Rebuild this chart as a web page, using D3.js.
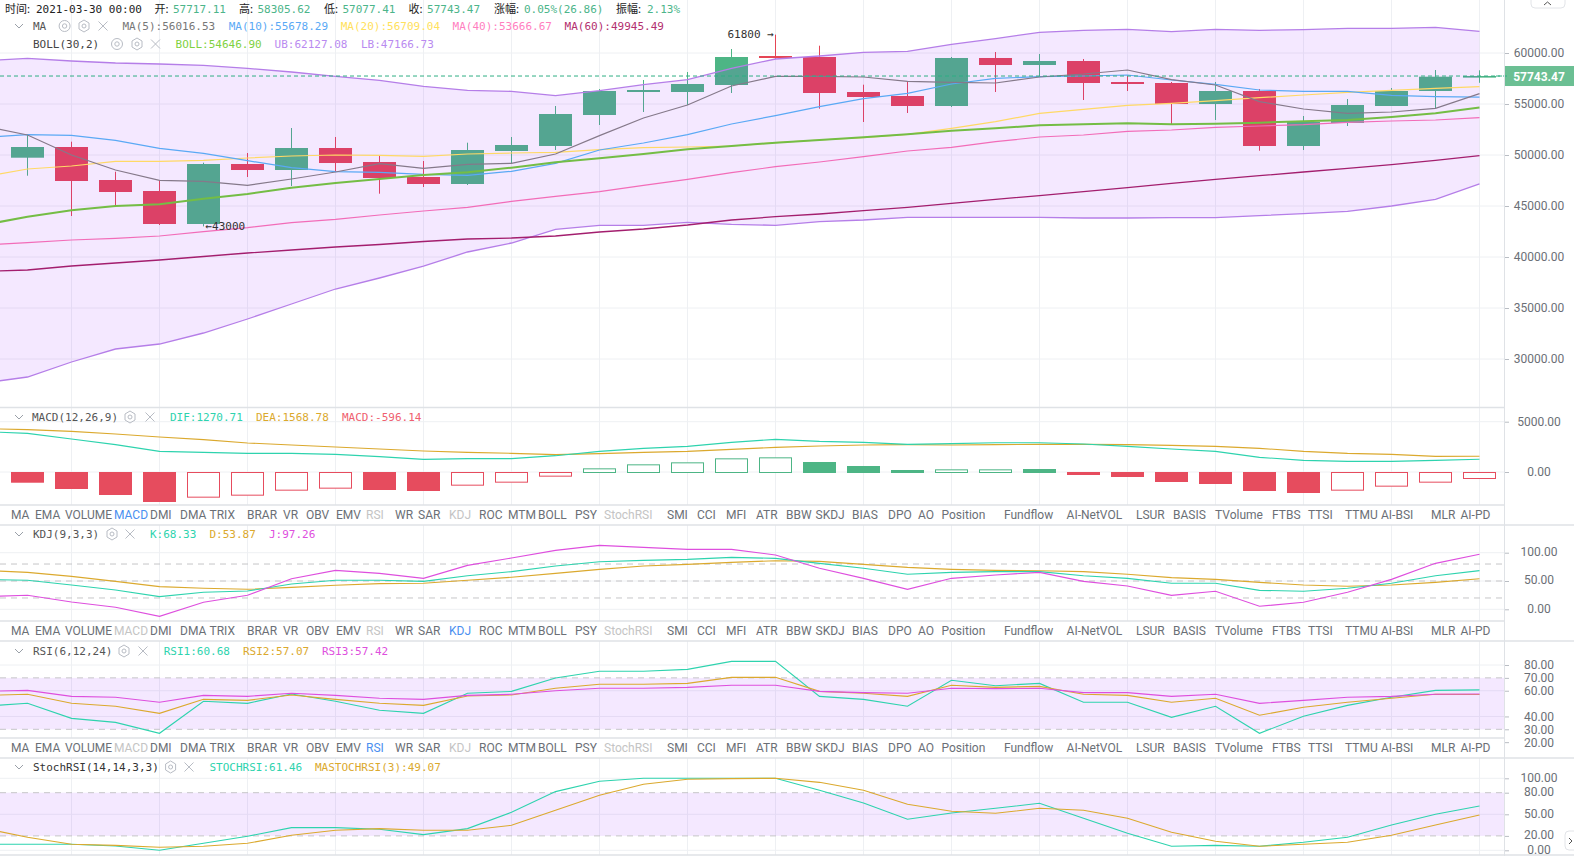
<!DOCTYPE html>
<html><head><meta charset="utf-8">
<script src="https://cdn.jsdelivr.net/npm/d3@7/dist/d3.min.js"></script>
<style>
html,body{margin:0;padding:0;background:#fff;overflow:hidden}
svg{display:block}
.mono{font-family:"DejaVu Sans Mono","Noto Sans CJK SC",monospace;font-size:11px}
.cjk{font-family:"Noto Sans CJK SC","DejaVu Sans Mono",sans-serif;font-size:11px}
.sans{font-family:Roboto,"Noto Sans",sans-serif;font-size:12px}
</style></head><body>
<div id="chart"></div>
<script>
// ---------- DATA ----------
const candleOpen  =[49735,50784,47549,46470,43235,49117,48529,50686,49314,47843,47157,50392,50882,53921,56176,56176,56863,59706,59608,56176,55784,54804,59510,58823,59216,57157,57059,54999,56274,50882,53137,54804,56274,57717.11];
const candleClose =[50784,47451,46372,43235,49117,48529,50686,49215,47745,47157,50490,50980,54019,56274,56372,56961,59608,59510,56078,55686,54804,59510,58823,59216,57059,56961,54999,56274,50882,53235,54902,56274,57676,57743.47];
const candleHigh  =[51961,51304,48362,47451,49245,50196,52647,51765,50000,49412,51206,51765,54804,56470,57353,58137,60392,61800,60716,56892,57157,59608,60098,59902,59412,57745,57157,57157,56470,53823,55490,56568,58333,58305.62];
const candleLow   =[47971,44020,45000,43137,43000,47843,46960,48333,46206,46862,47059,49215,50490,52941,54216,54902,56078,59412,54539,53235,54118,54706,56176,57745,55392,56274,53039,53431,50421,50490,52843,54804,54608,57077.41];
// line series start one period before the first visible candle
const ma5 =[52843,51960,50000,48529,47516,47418,47026,47647,48333,49150,48693,49085,49183,50098,51895,53627,54902,56765,57712,57712,57647,57222,57124,57059,57647,57941,58333,57385,56863,55229,54510,54085,54216,54575,56016.53];
const ma10=[51732,51993,51928,51438,50653,50163,49444,48758,48366,48300,48104,48006,48398,49183,50490,51176,51993,53039,53856,54738,55523,56046,56961,57516,57680,57745,57843,57353,56928,56372,56242,56242,55850,55719,55678.29];
const ma20=[47876,48627,48921,49379,49379,49477,49708,49902,50000,49967,49869,50098,50196,50261,50523,50719,50784,50882,51209,51470,51699,52026,52614,53268,54085,54477,54869,55065,55327,55621,55882,56144,56340,56536,56709.04];
const ma40=[41176,41405,41666,41830,42059,42483,42876,43366,43693,44117,44510,44869,45457,45948,46405,47026,47614,48268,48856,49313,49836,50392,50751,51307,51765,51961,52320,52451,52712,52843,52974,53202,53333,53431,53666.67];
const ma60=[38578,38725,39117,39411,39706,40049,40392,40686,40980,41225,41519,41764,41862,42057,42451,42745,43137,43627,43954,44215,44542,44869,45261,45653,46013,46405,46798,47222,47614,47974,48333,48693,49052,49477,49945.49];
const bollMid=[43137,43954,44574,45000,45163,45719,46176,46797,47255,47647,48039,48300,48758,49281,49673,50098,50555,50882,51209,51470,51732,52026,52386,52614,52908,53006,53104,53006,53072,53170,53300,53431,53725,54085,54646.90];
const bollUp =[59248,59477,59215,59019,58921,58791,58497,58137,57712,57320,56732,56340,56242,55817,56307,56895,57385,58497,59412,59706,60065,60163,60850,61405,62026,62222,62320,62091,62320,62222,62288,62418,62418,62516,62127.08];
const bollLow=[27647,28235,29706,30980,31470,32549,33922,35392,36862,37941,39117,40490,41372,42715,43107,43107,43401,43206,43107,43460,43627,43892,43892,43892,43892,43823,43823,43852,43852,44049,44245,44480,44999,45657,47166.73];
const macdBars=[-961,-1590,-2187,-2882,-2452,-2253,-1756,-1557,-1690,-1789,-1259,-961,-364,364,762,961,1358,1458,994,596,199,265,265,298,-199,-398,-895,-1093,-1789,-1988,-1756,-1358,-961,-596.14];
const dif=[4009,3843,3280,2717,2054,1955,1855,1855,1756,1524,1259,1325,1325,1623,2054,2352,2551,2949,3247,3048,2949,2750,2816,2915,2915,2783,2551,2286,2054,1458,1160,1060,1060,1160,1270.71];
const dea=[4307,4208,4042,3777,3479,3214,2882,2684,2485,2286,2087,1955,1855,1723,1822,1955,2054,2253,2452,2584,2684,2717,2684,2717,2750,2750,2717,2650,2551,2352,2054,1855,1756,1557,1568.78];
const kLine=[52.9,51.2,42.9,34.1,22.4,30,32.4,44.7,51.2,51.2,49.4,59.4,66.5,76.5,84.1,86.5,88.2,91.8,90,81.2,72.4,61.8,65.3,66.5,66.5,59.4,54.7,45.9,45.9,33.5,31.8,37.1,45.9,59.4,68.33];
const dLine=[68.8,65.3,58.2,49.4,40,37.1,35.3,38.8,42.4,45.3,45.9,51.2,56.5,63.5,70.6,76.5,79.4,82.9,85.9,84.7,79.4,74.1,70.6,68.8,68.2,66.5,61.8,55.9,52.9,47.6,42.9,40.6,42.9,47.6,53.87];
const jLine=[22.4,24.7,12.9,3.5,-12.4,12.4,24.7,54.1,68.8,63.5,54.7,77.6,90.6,104.1,112.9,109.4,105.9,105.9,95.9,72.4,54.7,35.3,54.7,60.6,65.3,49.4,41.2,24.7,31.8,5.3,12.4,30,52.9,81.2,97.26];
const rsi1=[47.9,50.2,38.5,35.4,26.9,51.8,50.2,57.5,51.8,44.8,42.4,58,59.5,69.9,75.1,75.1,76.6,82.8,82.8,55.6,53.3,47.9,68.1,63.9,65.7,51,51,39.3,47.9,26.9,40.1,48.6,54.9,60.3,60.68];
const rsi2=[56.4,57.2,50.2,47.9,42.4,53.3,52.5,56.7,53.3,50.2,48.6,55.9,56.7,61.9,65,65,65.7,70.4,70.4,59.5,58,55.6,64.2,62.6,63.4,57.2,56.4,51,54.1,40.9,47.1,51,54.1,57.2,57.07];
const rsi3=[59.5,60.3,55.6,54.9,51,56.4,55.6,58,56.4,54.1,53.3,56.4,57.2,60,61.9,61.9,62.6,64.2,64.2,59.5,58.5,58,61.9,61.6,61.9,58.5,58.5,55.6,57.2,50.2,52.5,54.9,55.6,57.2,57.42];
const stoch=[8.3,8.3,8.3,6,0,9.7,19.4,31.5,31.5,29.2,21.8,30.1,52.8,81.5,95.8,100,100,100,100,83.3,65.7,43.1,51.9,58.3,65.3,44.4,23.6,5.6,6.9,5.6,11.1,18.1,35.2,50,61.46];
const maStoch=[30.6,18.1,8.3,6.9,4.2,5.6,9.7,20.8,27.8,30.1,27.8,27.8,34.7,55.6,76.4,91.7,98.6,99.5,100,94.4,83.3,63.9,54.2,51.4,58.3,55.6,44.4,25,12.5,5.6,8.3,11.1,20.8,35.2,49.07];
const hollowBars=[4,5,6,7,10,11,12,13,14,15,16,17,21,22,30,31,32,33];
const priceTicks=[30000,35000,40000,45000,50000,55000,60000];
const macdTicks=[0,5000];
const kdjTicks=[0,50,100];
const rsiTicks=[20,30,40,60,70,80];
const stochTicks=[0,20,50,80,100];
const tabNames=["MA","EMA","VOLUME","MACD","DMI","DMA","TRIX","BRAR","VR","OBV","EMV","RSI","WR","SAR","KDJ","ROC","MTM","BOLL","PSY","StochRSI","SMI","CCI","MFI","ATR","BBW","SKDJ","BIAS","DPO","AO","Position","Fundflow","AI-NetVOL","LSUR","BASIS","TVolume","FTBS","TTSI","TTMU","AI-BSI","MLR","AI-PD"];
const lastPrice=57743.47, highMark=61800, lowMark=43000;

// ---------- LAYOUT ----------
const W=1574,H=856,AX=1504;
const tabX=[11,35,65,114,150,180,209.5,247,283,306,336,366,395,418,449,479,508,538,575,604,667,697,726,756,786,815.5,852,888,918,941.5,1004,1066.6,1136,1173,1215,1272,1308,1345,1381,1431,1460.5];
const C={green:"#4DB585",red:"#E54555",macdRed:"#E64C5E",grid:"#EEF0F3",sep:"#DFE2E6",txt:"#6b6f76",teal:"#2ED3AE",gold:"#DBA92E",mag:"#DE4FDE",
  ma5:"#85798A",ma10:"#5AA9F5",ma20:"#FFD966",ma40:"#F26CB8",ma60:"#A31E6E",boll:"#74BD45",bb:"#B57EE8",band:"rgba(155,39,255,0.105)",dash:"#C6C6C8",
  active:"#4A90F0",dim:"#C4C4C4"};
const svg=d3.select("#chart").append("svg").attr("width",W).attr("height",H).attr("viewBox",`0 0 ${W} ${H}`);
const defs=svg.append("defs");
const x=d3.scaleLinear().domain([0,33]).range([27.5,1479.5]);
const barW=(x(1)-x(0))*0.75;
const idx=d3.range(34);
const px=(d,i)=>x(i-1);

function clipFor(id,y0,y1){defs.append("clipPath").attr("id",id).append("rect").attr("x",0).attr("y",y0).attr("width",AX).attr("height",y1-y0);}
function panel(id,y0,y1,scale,gridVals){
  clipFor(id,y0,y1);
  const g=svg.append("g");
  g.selectAll("line.h").data(gridVals).join("line").attr("x1",0).attr("x2",AX).attr("y1",d=>scale(d)).attr("y2",d=>scale(d)).attr("stroke",C.grid);
  g.selectAll("line.v").data(idx.filter(i=>i%2===1)).join("line").attr("x1",d=>x(d)).attr("x2",d=>x(d)).attr("y1",y0).attr("y2",y1).attr("stroke",C.grid);
  return svg.append("g").attr("clip-path",`url(#${id})`);
}
function drawLine(g,vals,scale,color,w){
  g.append("path").attr("d",d3.line().x(px).y(d=>scale(d))(vals)).attr("fill","none").attr("stroke",color).attr("stroke-width",w||1.1);
}
function axis(scale,ticks,shift){
  const a=d3.axisRight(scale).tickValues(ticks).tickFormat(d3.format(".2f")).tickSize(5);
  const g=svg.append("g").attr("transform",`translate(${AX},0)`).call(a);
  g.select(".domain").remove();
  g.selectAll(".tick line").attr("stroke","#B9BDC3");
  g.selectAll(".tick text").attr("x",35).attr("y",shift||0).attr("text-anchor","middle").attr("class","sans").attr("fill",C.txt);
}
function levelDash(g,scale,vals,fill){
  if(fill){g.append("rect").attr("x",0).attr("width",AX).attr("y",scale(vals[0])).attr("height",scale(vals[1])-scale(vals[0])).attr("fill",C.band);}
  g.selectAll("line.d").data(vals).join("line").attr("x1",0).attr("x2",AX).attr("y1",d=>scale(d)).attr("y2",d=>scale(d)).attr("stroke",C.dash).attr("stroke-dasharray","6,5");
}
function text(sx,sy,str,col,cls){return svg.append("text").attr("x",sx).attr("y",sy).attr("fill",col).attr("class",cls||"mono").text(str);}
function chevron(cx,cy){svg.append("path").attr("d",`M${cx-4},${cy-2}L${cx},${cy+2}L${cx+4},${cy-2}`).attr("fill","none").attr("stroke","#9aa0a8");}
function eye(cx,cy){const g=svg.append("g").attr("fill","none").attr("stroke","#B8BCC4");g.append("circle").attr("cx",cx).attr("cy",cy).attr("r",5.5);g.append("circle").attr("cx",cx).attr("cy",cy).attr("r",2.2);}
function hex(cx,cy){const g=svg.append("g").attr("fill","none").attr("stroke","#B8BCC4");
  g.append("path").attr("d",`M${cx},${cy-6}L${cx+5},${cy-3}L${cx+5},${cy+3}L${cx},${cy+6}L${cx-5},${cy+3}L${cx-5},${cy-3}Z`);g.append("circle").attr("cx",cx).attr("cy",cy).attr("r",2);}
function cross(cx,cy){svg.append("path").attr("d",`M${cx-4.5},${cy-4.5}L${cx+4.5},${cy+4.5}M${cx+4.5},${cy-4.5}L${cx-4.5},${cy+4.5}`).attr("stroke","#B8BCC4").attr("fill","none");}
function tabs(cy,active,dims){
  svg.append("g").selectAll("text").data(tabNames).join("text").attr("class","sans").attr("x",(d,i)=>tabX[i]).attr("y",cy+3.5)
    .attr("fill",d=>d===active?C.active:(dims.includes(d)?C.dim:C.txt)).text(d=>d);
}

// ---------- MAIN PANEL ----------
const yP=d3.scaleLinear().domain([30000,60000]).range([359,53]);
const gM=panel("cm",0,407,yP,priceTicks);
// candles sit beneath the translucent Bollinger band
const up=i=>candleClose[i]>=candleOpen[i];
gM.selectAll("line.w").data(idx).join("line").attr("x1",d=>x(d)).attr("x2",d=>x(d))
  .attr("y1",d=>yP(candleHigh[d])).attr("y2",d=>yP(candleLow[d])).attr("stroke",d=>up(d)?C.green:C.red);
gM.selectAll("rect.c").data(idx).join("rect").attr("x",d=>x(d)-barW/2).attr("width",barW)
  .attr("y",d=>yP(Math.max(candleOpen[d],candleClose[d])))
  .attr("height",d=>Math.max(1.6,Math.abs(yP(candleOpen[d])-yP(candleClose[d])))).attr("fill",d=>up(d)?C.green:C.red);
gM.append("path").attr("d",d3.area().x(px).y0((d,i)=>yP(bollLow[i])).y1(d=>yP(d))(bollUp)).attr("fill",C.band);
drawLine(gM,bollUp,yP,C.bb,1.3);
drawLine(gM,bollLow,yP,C.bb,1.3);
drawLine(gM,ma60,yP,C.ma60,1.3);
drawLine(gM,ma40,yP,C.ma40,1.2);
drawLine(gM,ma20,yP,C.ma20,1.2);
drawLine(gM,ma10,yP,C.ma10,1.2);
drawLine(gM,ma5,yP,C.ma5,1.2);
drawLine(gM,bollMid,yP,C.boll,2);
gM.append("line").attr("x1",0).attr("x2",AX).attr("y1",yP(lastPrice)).attr("y2",yP(lastPrice)).attr("stroke","#2FAE83").attr("stroke-dasharray","4,3");
axis(yP,priceTicks);
svg.append("rect").attr("x",AX).attr("y",yP(lastPrice)-10).attr("width",70).attr("height",20).attr("fill","#6BBF93");
svg.append("line").attr("x1",AX-8).attr("x2",AX+6).attr("y1",yP(lastPrice)).attr("y2",yP(lastPrice)).attr("stroke","#2FAE83").attr("stroke-dasharray","4,3");
svg.append("text").attr("x",1539).attr("y",yP(lastPrice)+4.5).attr("text-anchor","middle").attr("class","sans").attr("font-weight","700").attr("fill","#fff").text(d3.format(".2f")(lastPrice));
svg.append("text").attr("x",x(17)-3-45).attr("y",yP(highMark)+3).attr("class","mono").attr("fill","#333").text(highMark+" →");
svg.append("text").attr("x",x(4)+2).attr("y",yP(lowMark)+4).attr("class","mono").attr("fill","#333").text("←"+lowMark);

// main legend
const top1=13;
text(5,top1,"时间:","#222","cjk");text(36,top1,"2021-03-30 00:00","#222");
[[154.5,"开:","57717.11"],[239,"高:","58305.62"],[324,"低:","57077.41"],[408.6,"收:","57743.47"]].forEach(d=>{
  text(d[0],top1,d[1],"#222","cjk");text(d[0]+18.5,top1,d[2],"#4CB58A");});
text(494,top1,"涨幅:","#222","cjk");text(524,top1,"0.05%(26.86)","#4CB58A");
text(616,top1,"振幅:","#222","cjk");text(647,top1,"2.13%","#4CB58A");
chevron(19,26);text(33,30,"MA","#555");eye(64.6,26);hex(84,26);cross(103,26);
[[122.5,"MA(5):56016.53","#777"],[228.7,"MA(10):55678.29",C.ma10],[340.7,"MA(20):56709.04","#FFE15C"],[452.6,"MA(40):53666.67","#FF7FBF"],[564.6,"MA(60):49945.49","#B3306F"]].forEach(d=>text(d[0],30,d[1],d[2]));
text(33,48,"BOLL(30,2)","#444");eye(117,44);hex(137,44);cross(155.5,44);
[[175.6,"BOLL:54646.90","#7FD13F"],[274.6,"UB:62127.08","#B98AF0"],[361,"LB:47166.73","#B98AF0"]].forEach(d=>text(d[0],48,d[1],d[2]));

// ---------- MACD ----------
const yMacd=d3.scaleLinear().domain([0,5000]).range([472,421.7]);
const gA=panel("c1",408,505,yMacd,macdTicks);
gA.selectAll("rect").data(idx).join("rect").attr("x",d=>x(d)-barW/2+.5).attr("width",barW-1)
  .attr("y",d=>Math.min(yMacd(0),yMacd(macdBars[d]))+.5)
  .attr("height",d=>Math.abs(yMacd(macdBars[d])-yMacd(0)))
  .attr("fill",d=>hollowBars.includes(d)?"#fff":(macdBars[d]>0?C.green:C.macdRed))
  .attr("stroke",d=>macdBars[d]>0?C.green:C.macdRed);
drawLine(gA,dea,yMacd,C.gold);
drawLine(gA,dif,yMacd,C.teal);
axis(yMacd,macdTicks);
chevron(19,417);text(32,421,"MACD(12,26,9)","#555");hex(130,417);cross(150,417);
text(170,421,"DIF:1270.71",C.teal);text(256,421,"DEA:1568.78",C.gold);text(342,421,"MACD:-596.14","#EF5F6F");
tabs(515,"MACD",["RSI","KDJ","StochRSI"]);

// ---------- KDJ ----------
const yK=d3.scaleLinear().domain([0,100]).range([609.3,552.7]);
const gB=panel("c2",525,621,yK,kdjTicks);
levelDash(gB,yK,[80,50,20],false);
drawLine(gB,dLine,yK,C.gold);drawLine(gB,kLine,yK,C.teal);drawLine(gB,jLine,yK,C.mag);
axis(yK,kdjTicks,-1);
chevron(19,534);text(33,538,"KDJ(9,3,3)","#555");hex(112,534);cross(130,534);
text(150,538,"K:68.33",C.teal);text(209.5,538,"D:53.87",C.gold);text(269,538,"J:97.26",C.mag);
tabs(631,"KDJ",["MACD","RSI","StochRSI"]);

// ---------- RSI ----------
const yR=d3.scaleLinear().domain([30,80]).range([729.3,665]);
const gC=panel("c3",641,738,yR,[40,60,80]);
levelDash(gC,yR,[70,30],true);
drawLine(gC,rsi1,yR,C.teal);drawLine(gC,rsi2,yR,C.gold);drawLine(gC,rsi3,yR,C.mag);
axis(yR,rsiTicks);
chevron(19,651);text(33,655,"RSI(6,12,24)","#555");hex(124,651);cross(143,651);
text(163.7,655,"RSI1:60.68",C.teal);text(243,655,"RSI2:57.07",C.gold);text(322,655,"RSI3:57.42",C.mag);
tabs(748,"RSI",["MACD","KDJ","StochRSI"]);

// ---------- StochRSI ----------
const yS=d3.scaleLinear().domain([0,100]).range([850.3,778.3]);
const gD=panel("c4",758,855,yS,[0,50,100]);
levelDash(gD,yS,[80,20],true);
drawLine(gD,stoch,yS,C.teal);drawLine(gD,maStoch,yS,C.gold);
axis(yS,stochTicks,-1);
chevron(19,767);text(33,771,"StochRSI(14,14,3,3)","#333");hex(170.6,767);cross(189,767);
text(209.5,771,"STOCHRSI:61.46",C.teal);text(315,771,"MASTOCHRSI(3):49.07",C.gold);

// ---------- FRAME ----------
[[407.5,AX],[505,AX],[525,W],[621,AX],[641,W],[738,AX],[758,W],[855,W]].forEach(d=>{
  svg.append("line").attr("x1",0).attr("x2",d[1]).attr("y1",d[0]).attr("y2",d[0]).attr("stroke",C.sep).attr("stroke-width",1.5);});
svg.append("line").attr("x1",AX+.5).attr("x2",AX+.5).attr("y1",0).attr("y2",H).attr("stroke",C.sep);
svg.append("rect").attr("x",1531).attr("y",-8).attr("width",34).attr("height",16).attr("rx",4).attr("fill","#fff").attr("stroke","#E2E4E8");
svg.append("path").attr("d","M1544,5L1547.5,2L1551,5").attr("fill","none").attr("stroke","#555");
svg.append("rect").attr("x",1565).attr("y",831).attr("width",16).attr("height",19).attr("rx",4).attr("fill","#fff").attr("stroke","#E2E4E8");
svg.append("path").attr("d","M1569,838L1572,841L1569,844").attr("fill","none").attr("stroke","#555");
</script></body></html>
